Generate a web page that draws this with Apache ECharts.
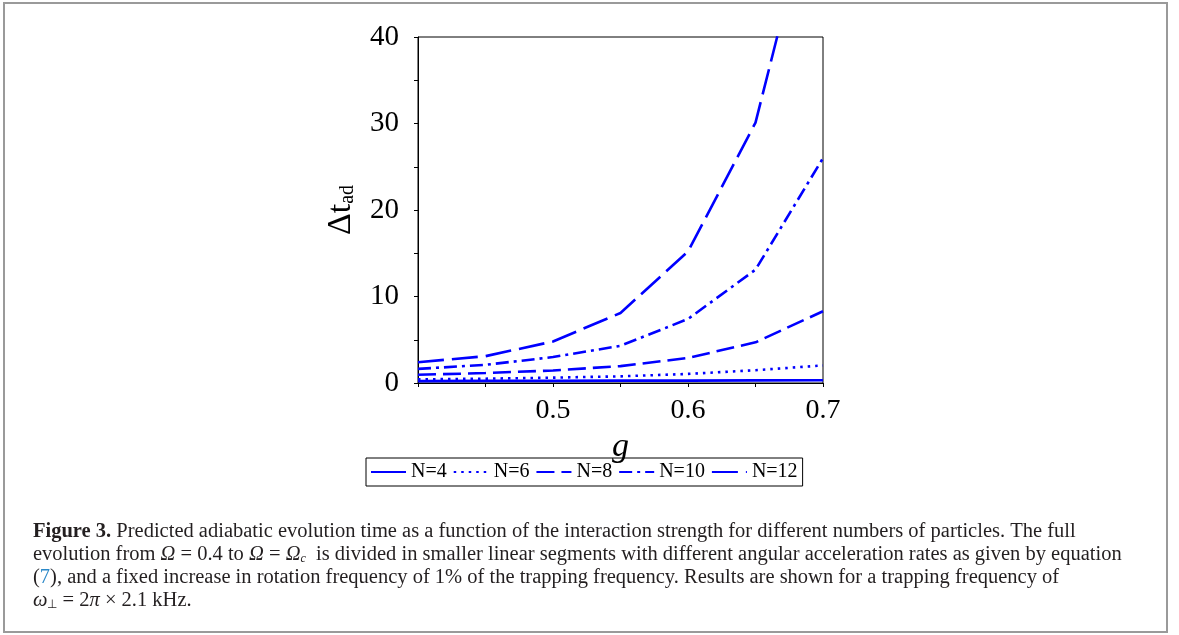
<!DOCTYPE html>
<html>
<head>
<meta charset="utf-8">
<style>
  html, body { margin: 0; padding: 0; background: #fff; }
  #chart { width: 1179px; height: 635px; }
</style>
<script src="https://cdn.jsdelivr.net/npm/echarts@6/dist/echarts.min.js"></script>
</head>
<body>
<div id="chart"></div>
<script>
// interaction strength g
var gValues = [0.4, 0.45, 0.5, 0.55, 0.6, 0.65, 0.7]
// adiabatic time for each particle number
var tN4 = [0.22, 0.24, 0.25, 0.27, 0.28, 0.3, 0.32]
var tN6 = [0.42, 0.5, 0.62, 0.77, 1.05, 1.48, 2.03]
var tN8 = [0.95, 1.15, 1.45, 1.95, 2.9, 4.7, 8.3]
var tN10 = [1.63, 2.1, 3.0, 4.3, 7.4, 13.1, 26]
var tN12 = [2.4, 3.1, 4.8, 8.1, 15.2, 30.1, 61]
var seriesNames = ['N=4', 'N=6', 'N=8', 'N=10', 'N=12']
var xTicks = [0.4, 0.7, 0.1]   // min, max, step
var yTicks = [0, 40, 10]

var serif = 'Liberation Serif'
var blue = '#0000ff'
var ink = '#231f20'

function pairs(ys) {
  return gValues.map(function (g, i) { return [g, ys[i]] })
}

function lineSeries(name, ys, dash) {
  return {
    name: name,
    type: 'line',
    data: pairs(ys),
    symbol: 'none',
    clip: true,
    lineStyle: { color: blue, width: 2.6, type: dash, cap: 'butt' },
    itemStyle: { color: blue }
  }
}

var chart = echarts.init(document.getElementById('chart'))

chart.setOption({
  animation: false,
  backgroundColor: '#fff',
  grid: {
    left: 418, right: 356, top: 37, bottom: 252,
    show: true, borderColor: '#000', borderWidth: 1
  },
  legend: {
    data: seriesNames,
    left: 366, top: 458,
    orient: 'horizontal',
    borderColor: '#000', borderWidth: 1,
    padding: [4, 5, 4, 4],
    itemWidth: 35, itemHeight: 12, itemGap: 6,
    itemStyle: { opacity: 0 },
    textStyle: { fontFamily: serif, fontSize: 20, color: '#000', padding: [2, 0, 0, 0] }
  },
  xAxis: {
    type: 'value',
    min: xTicks[0], max: xTicks[1], interval: xTicks[2],
    name: 'g',
    nameLocation: 'middle',
    nameGap: 34,
    nameTextStyle: { fontFamily: serif, fontStyle: 'italic', fontSize: 34, color: '#000' },
    axisLine: { show: true, lineStyle: { color: '#000', width: 1 } },
    axisTick: { show: true, length: 4, lineStyle: { color: '#000' } },
    minorTick: { show: true, splitNumber: 2, length: 4, lineStyle: { color: '#000' } },
    splitLine: { show: false },
    axisLabel: {
      showMinLabel: false,
      margin: 14,
      fontFamily: serif, fontSize: 28, color: '#000'
    }
  },
  yAxis: {
    type: 'value',
    min: yTicks[0], max: yTicks[1], interval: yTicks[2],
    name: '{a|Δt}{b|ad}',
    nameLocation: 'middle',
    nameRotate: 90,
    nameGap: 60,
    nameTextStyle: {
      color: '#000',
      rich: {
        a: { fontFamily: serif, fontSize: 34, color: '#000' },
        b: { fontFamily: serif, fontSize: 20, color: '#000', padding: [14, 0, 0, 0] }
      }
    },
    axisLine: { show: true, lineStyle: { color: '#000', width: 1 } },
    axisTick: { show: true, length: 4, lineStyle: { color: '#000' } },
    minorTick: { show: true, splitNumber: 2, length: 4, lineStyle: { color: '#000' } },
    splitLine: { show: false },
    axisLabel: { margin: 19, fontFamily: serif, fontSize: 29, color: '#000' }
  },
  series: [
    lineSeries(seriesNames[0], tN4, 'solid'),
    lineSeries(seriesNames[1], tN6, [2.5, 5]),
    lineSeries(seriesNames[2], tN8, [18, 7]),
    lineSeries(seriesNames[3], tN10, [13, 5, 3, 5]),
    lineSeries(seriesNames[4], tN12, [26, 8])
  ],
  graphic: [
    {
      type: 'rect',
      shape: { x: 4, y: 3, width: 1163, height: 629 },
      style: { fill: 'none', stroke: '#9a9a9a', lineWidth: 2 },
      silent: true
    },
    {
      type: 'group',
      left: 33, top: 521,
      children: [
        {
          type: 'text', x: 0, y: 0,
          style: {
            text: '{b|Figure 3.} Predicted adiabatic evolution time as a function of the interaction strength for different numbers of particles. The full',
            font: '20.5px "Liberation Serif"', fill: ink,
            rich: { b: { fontWeight: 'bold', fontFamily: serif, fontSize: 20.5, fill: ink } }
          }
        },
        {
          type: 'text', x: 0, y: 23,
          style: {
            text: 'evolution from {i|Ω} = 0.4 to {i|Ω} = {i|Ω}{s|c}  is divided in smaller linear segments with different angular acceleration rates as given by equation',
            font: '20.5px "Liberation Serif"', fill: ink,
            rich: {
              i: { fontStyle: 'italic', fontFamily: serif, fontSize: 20.5, fill: ink },
              s: { fontStyle: 'italic', fontFamily: serif, fontSize: 12, fill: ink, verticalAlign: 'bottom', padding: [9, 0, 0, 0] }
            }
          }
        },
        {
          type: 'text', x: 0, y: 46,
          style: {
            text: '({l|7}), and a fixed increase in rotation frequency of 1% of the trapping frequency. Results are shown for a trapping frequency of',
            font: '20.5px "Liberation Serif"', fill: ink,
            rich: { l: { fontFamily: serif, fontSize: 20.5, fill: '#2a88c8' } }
          }
        },
        {
          type: 'text', x: 0, y: 69,
          style: {
            text: '{i|ω}{s|⊥} = 2{i|π} × 2.1 kHz.',
            font: '20.5px "Liberation Serif"', fill: ink,
            rich: {
              i: { fontStyle: 'italic', fontFamily: serif, fontSize: 20.5, fill: ink },
              s: { fontFamily: serif, fontSize: 12, fill: ink, verticalAlign: 'bottom', padding: [9, 0, 0, 0] }
            }
          }
        }
      ]
    }
  ]
})
</script>
</body>
</html>
